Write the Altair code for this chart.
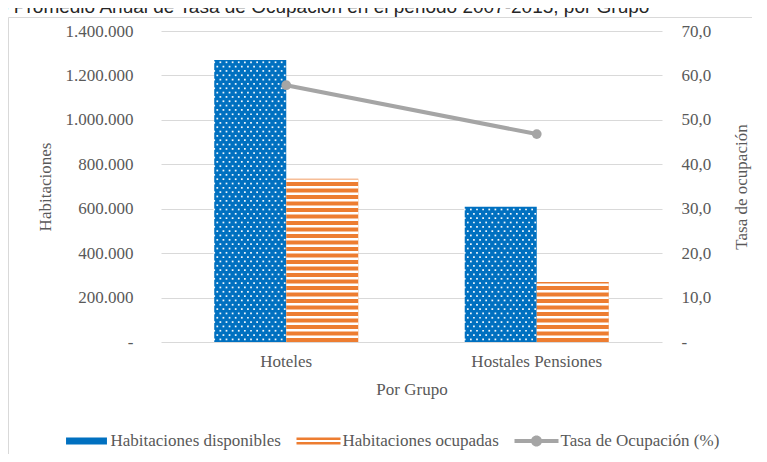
import altair as alt
import pandas as pd

# ---------------- data ----------------
grupos = ["Hoteles", "Hostales Pensiones"]
series = ["Habitaciones disponibles", "Habitaciones ocupadas", "Tasa de Ocupación (%)"]
hab_disponibles = [1270000, 609000]
hab_ocupadas = [735000, 270000]
tasa_ocupacion = [57.8, 46.8]
left_ticks = [0, 200000, 400000, 600000, 800000, 1000000, 1200000, 1400000]
right_ticks = [0, 10, 20, 30, 40, 50, 60, 70]
title_text = "o Promedio Anual de Tasa de Ocupación en el periodo 2007-2015, por Grupo"

# ---------------- style ----------------
colors = ["#0070C0", "#ED7D31", "#A5A5A5"]
W, H = 501, 311
LEFT_MAX = 1400000
GRID = "#D9D9D9"
TXT = "#595959"
SERIF = "Liberation Serif"
FS = 17

bars_rows = []
for g, d, o in zip(grupos, hab_disponibles, hab_ocupadas):
    bars_rows.append({"Grupo": g, "Serie": series[0], "Valor": d})
    bars_rows.append({"Grupo": g, "Serie": series[1], "Valor": o})
bars_df = pd.DataFrame(bars_rows)

line_df = pd.DataFrame({"Grupo": grupos, "Tasa": tasa_ocupacion})

# pattern decoration (white stripes on orange, white dots on blue)
u = LEFT_MAX / H  # data units per pixel
period, gap = 6.5 * u, 2.4 * u
stripe_rows = []
for g, v in zip(grupos, hab_ocupadas):
    k = 0
    while True:
        lo = k * period + (period - gap)
        hi = lo + gap
        if hi >= v:
            break
        stripe_rows.append({"Grupo": g, "Serie": series[1], "lo": lo, "hi": hi})
        k += 1
stripes_df = pd.DataFrame(stripe_rows)

rowstep = 4.33 * u
dot_rows = []
for g, v in zip(grupos, hab_disponibles):
    r = 0
    while (r + 0.6) * rowstep < v - 0.4 * rowstep:
        for c in range(r % 2, 24, 2):
            dot_rows.append({"Grupo": g, "col": c, "yv": (r + 0.6) * rowstep})
        r += 1
dots_df = pd.DataFrame(dot_rows)

legend_df = pd.DataFrame({"Serie": series})
legend_paths = [
    "M-0.93,-0.16H0.93V0.16H-0.93Z",
    "M-1,-0.16H1V-0.04H-1Z M-1,0.05H1V0.16H-1Z",
    "M-1,-0.09H1V0.09H-1Z M0.25,0A0.25,0.25 0 1,1 -0.25,0A0.25,0.25 0 1,1 0.25,0Z",
]

# ---------------- encodings ----------------
x_enc = alt.X(
    "Grupo:N",
    sort=grupos,
    scale=alt.Scale(domain=grupos, paddingInner=0.425, paddingOuter=0.2125),
    axis=alt.Axis(
        title="Por Grupo", labelAngle=0, ticks=False, domain=False, grid=False,
        labelPadding=11, labelFont=SERIF, labelFontSize=FS, labelColor=TXT,
        titleFont=SERIF, titleFontSize=FS, titleColor=TXT, titleFontWeight="normal",
        titleY=47, titleBaseline="middle",
    ),
)

left_axis = alt.Axis(
    title="Habitaciones", values=left_ticks,
    labelExpr="datum.value == 0 ? '-' : replace(format(datum.value, ',.0f'), regexp(',', 'g'), '.')",
    grid=True, gridColor=GRID, gridWidth=1, ticks=False, domain=False,
    labelPadding=28, labelFont=SERIF, labelFontSize=FS, labelColor=TXT,
    titleFont=SERIF, titleFontSize=FS, titleColor=TXT, titleFontWeight="normal",
    titleAngle=270, titleX=-116, titleY=H / 2, titleAlign="center", titleBaseline="middle",
)
y_left_scale = alt.Scale(domain=[0, LEFT_MAX], nice=False)

right_axis = alt.Axis(
    title="Tasa de ocupación", orient="right", values=right_ticks,
    labelExpr="datum.value == 0 ? '-' : replace(format(datum.value, '.1f'), '.', ',')",
    grid=False, ticks=False, domain=False,
    labelPadding=19, labelFont=SERIF, labelFontSize=FS, labelColor=TXT,
    titleFont=SERIF, titleFontSize=FS, titleColor=TXT, titleFontWeight="normal",
    titleAngle=270, titleX=79, titleY=H / 2, titleAlign="center", titleBaseline="middle",
)
y_right_scale = alt.Scale(domain=[0, 70], nice=False)

legend_props = dict(
    orient="none", legendX=-96.5, legendY=388, direction="horizontal", title=None,
    symbolSize=1936, symbolStrokeWidth=0, symbolOpacity=1,
    labelFont=SERIF, labelFontSize=FS, labelColor=TXT, labelOffset=2, labelLimit=400,
    columnPadding=15, padding=0,
)

# ---------------- layers ----------------
bars = alt.Chart(bars_df).mark_bar().encode(
    x=x_enc,
    xOffset=alt.XOffset("Serie:N", scale=alt.Scale(domain=series[:2], paddingInner=0, paddingOuter=0)),
    y=alt.Y("Valor:Q", scale=y_left_scale, axis=left_axis),
    color=alt.Color("Serie:N", scale=alt.Scale(domain=series[:2], range=colors[:2]), legend=None),
)

stripes = alt.Chart(stripes_df).mark_bar(color="white").encode(
    x=x_enc,
    xOffset=alt.XOffset("Serie:N", scale=alt.Scale(domain=series[:2], paddingInner=0, paddingOuter=0)),
    y=alt.Y("lo:Q", scale=y_left_scale, axis=left_axis),
    y2="hi:Q",
)

dots = alt.Chart(dots_df).mark_square(color="white", size=3, opacity=0.95).encode(
    x=x_enc,
    xOffset=alt.XOffset("col:O", scale=alt.Scale(domain=list(range(48)), paddingInner=0, paddingOuter=0)),
    y=alt.Y("yv:Q", scale=y_left_scale, axis=left_axis),
)

left = alt.layer(bars, stripes, dots).resolve_scale(xOffset="independent")

line = alt.Chart(line_df).mark_line(color=colors[2], strokeWidth=4).encode(
    x=x_enc,
    y=alt.Y("Tasa:Q", scale=y_right_scale, axis=right_axis),
)
pts = alt.Chart(line_df).mark_circle(color=colors[2], size=95, opacity=1).encode(
    x=x_enc,
    y=alt.Y("Tasa:Q", scale=y_right_scale, axis=right_axis),
)
right = alt.layer(line, pts)

legend_layer = alt.Chart(legend_df).mark_point(filled=True, strokeWidth=0, opacity=1).encode(
    x=alt.value(-3000),
    y=alt.value(-3000),
    color=alt.Color("Serie:N", scale=alt.Scale(domain=series, range=colors),
                    legend=alt.Legend(**legend_props)),
    shape=alt.Shape("Serie:N", scale=alt.Scale(domain=series, range=legend_paths),
                    legend=alt.Legend(**legend_props)),
)

one = alt.Data(values=[{"k": 1}])
border_left = alt.Chart(one).mark_rule(color=GRID, strokeWidth=1).encode(
    x=alt.value(-152.5), y=alt.value(-13.5), y2=alt.value(600)
)
border_top = alt.Chart(one).mark_rule(color=GRID, strokeWidth=1).encode(
    x=alt.value(-152.5), x2=alt.value(800), y=alt.value(-13.5)
)
title_mark = alt.Chart(one).mark_text(
    align="left", baseline="alphabetic", font="Liberation Sans", fontSize=19, color="#262626"
).encode(x=alt.value(-163), y=alt.value(-18), text=alt.value(title_text))

chart = (
    alt.layer(left, right, legend_layer, border_left, border_top, title_mark)
    .resolve_scale(y="independent", color="independent", shape="independent")
    .properties(
        width=W, height=H,
        autosize=alt.AutoSizeParams(type="none"),
        padding={"left": 153, "top": 23, "right": 90, "bottom": 112},
    )
    .configure_view(stroke=None)
    .configure_legend(labelFont=SERIF, labelFontSize=FS, labelColor=TXT, labelLimit=400)
)

chart.save("out.html", embed_options={"renderer": "svg", "actions": False})
